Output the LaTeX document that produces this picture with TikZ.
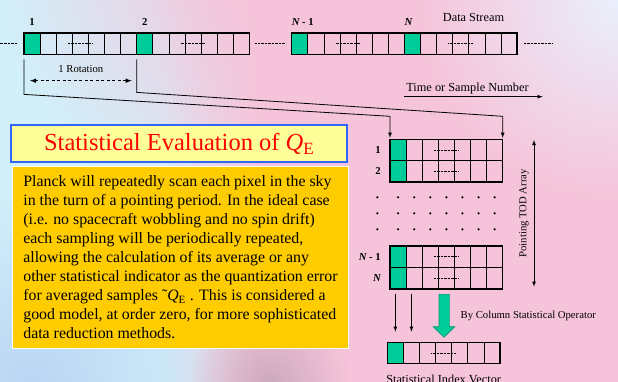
\documentclass[tikz,border=0pt]{standalone}
\usepackage{fontspec}
\setmainfont{Liberation Serif}
\usetikzlibrary{positioning,fadings}

\definecolor{bgcyan}{RGB}{210,240,250}
\definecolor{bgblue}{RGB}{186,214,244}
\definecolor{bgpink}{RGB}{246,196,218}
\definecolor{bglav}{RGB}{234,240,252}
\definecolor{bgdusk}{RGB}{206,170,190}
\definecolor{cellgreen}{RGB}{0,204,153}
\definecolor{arrowrim}{RGB}{0,150,110}
\definecolor{boxgold}{RGB}{255,204,0}
\definecolor{titlefill}{RGB}{255,255,153}
\definecolor{titleframe}{RGB}{51,102,255}

\pgfdeclarehorizontalshading{bgsweep}{100bp}{color(0bp)=(bgcyan); color(38bp)=(bgcyan); color(46bp)=(bgpink); color(100bp)=(bgpink)}
\tikzfading[name=softspot, inner color=transparent!0, outer color=transparent!100]

\begin{document}
\begin{tikzpicture}[
		x=1pt, y=-1pt,
		cell/.style={
			draw,
			line width=0.7pt,
			minimum width=16.1pt,
			minimum height=21.4pt,
			inner sep=0pt,
			outer sep=0pt
		},
		rim/.style={line width=1.5pt},
		elide/.style={line width=0.9pt, dash pattern=on 0.9pt off 0.5pt},
		wire/.style={line width=0.8pt},
		lbl/.style={font=\fontsize{10.7pt}{12pt}\selectfont},
		biglbl/.style={font=\fontsize{12.3pt}{14pt}\selectfont},
		idx/.style={font=\fontsize{10.7pt}{12pt}\selectfont\bfseries, inner sep=1pt},
		titlebox/.style={
			draw=titleframe,
			line width=2pt,
			fill=titlefill,
			text=red,
			minimum width=336.3pt,
			minimum height=37pt,
			font=\fontsize{24.5pt}{28pt}\selectfont
		},
		bodybox/.style={
			draw=white,
			line width=0.8pt,
			fill=boxgold,
			minimum width=335.6pt,
			minimum height=182.3pt,
			align=left,
			font=\fontsize{15.85pt}{19.1pt}\selectfont
		},
		>=latex
		]
		\useasboundingbox (0,0) rectangle (618,382);
		\clip (0,0) rectangle (618,382);
		
		% background wash
		\shade[shading=bgsweep] (0,0) rectangle (618,382);
		\fill[bgpink, path fading=softspot] (250,-30) circle (250);
		\fill[bglav, path fading=softspot] (618,0) circle (200);
		\fill[bgblue, path fading=softspot] (30,382) circle (190);
		\fill[bgdusk, path fading=softspot] (270,382) circle (80);
		
		% stream blocks, TOD rows and index vector
		\foreach \blk/\bx/\by in {a/24/33,b/136.7/33,c/291.7/33,d/404.4/33,r1/390/139.3,r2/390/160.7,rm/390/246,rn/390/267.4,v/387.3/342.3}
		{
			\node[cell, fill=cellgreen] (\blk-1) at ({\bx+8.05},{\by+10.7}) {};
			\foreach \k in {2,...,7}
				\node[cell] (\blk-\k) at ({\bx+(\k-0.5)*16.1},{\by+10.7}) {};
			\draw[rim] (\blk-1.north west) rectangle (\blk-7.south east);
			\draw[elide] ([xshift=-12.5pt]\blk-4.center) -- ([xshift=12.5pt]\blk-4.center);
		}
		
		\draw[elide] ([xshift=-7pt]a-1.west) -- ++(-17,0);
		\draw[elide] ([xshift=5.6pt]b-7.east) -- ([xshift=-6.7pt]c-1.west);
		\draw[elide] ([xshift=6.6pt]d-7.east) -- ++(28.4,0);
		
		\node[idx, above=6pt of a-1] (s1) {1};
		\node[idx, above=6pt of b-1] (s2) {2};
		\node[idx, above=6pt of c-1, xshift=3pt] (sm) {{\itshape N} - 1};
		\node[idx, above=6pt of d-1, xshift=-4pt] (sn) {\itshape N};
		\node[biglbl] (stream) at (473.5,17) {Data Stream};
		
		% one rotation
		\coordinate (rotl) at ([xshift=6pt,yshift=-26.3pt]a-1.south west);
		\coordinate (rotr) at ([xshift=-5pt,yshift=-26.3pt]b-1.south west);
		\draw[<->, line width=1.1pt, dash pattern=on 3pt off 2.5pt] (rotl) -- node[lbl, above=4pt] (rot) {1 Rotation} (rotr);
		
		% samples go into the TOD array
		\draw[->, wire] ([yshift=-5pt]a-1.south west) -- ++(0,35) -- ([yshift=23pt]r1-1.north west) -- ([yshift=1.5pt]r1-1.north west);
		\draw[->, wire] ([yshift=-5pt]b-1.south west) -- ++(0,33) -- ([yshift=23pt]r1-7.north east) -- ([yshift=1.5pt]r1-7.north east);
		
		\coordinate (t0) at (404,96.7);
		\coordinate (t1) at (542.7,96.7);
		\draw[->, wire] (t0) -- node[biglbl, pos=0, anchor=south west, inner sep=2pt] (time) {Time or Sample Number} (t1);
		
		\node[idx, left=8pt of r1-1] (p1) {1};
		\node[idx, left=8pt of r2-1] (p2) {2};
		\node[idx, left=8pt of rm-1] (pm) {{\itshape N} - 1};
		\node[idx, left=8pt of rn-1] (pn) {\itshape N};
		
		\foreach \row in {197.3,213.3,229.3}
		{
			\fill (377.3,\row) circle (1.2);
			\foreach \k in {1,...,7}
				\fill ({390+(\k-0.5)*16.1},\row) circle (1.2);
		}
		
		\coordinate (todtop) at (534,140);
		\coordinate (todbot) at (534,286.7);
		\draw[<->, wire] (todtop) -- node[lbl, rotate=90, anchor=south, inner sep=5pt] (tod) {Pointing TOD Array} (todbot);
		
		% column operator
		\foreach \k in {1,2}
		{
			\coordinate (drop\k) at (v-\k.north |- rn-\k.south);
			\draw[->, wire] ([yshift=-5pt]drop\k) -- ([yshift=10.6pt]v-\k.north);
		}
		\filldraw[fill=cellgreen, draw=arrowrim, line width=0.6pt] (439,294.3) -- (449.3,294.3) -- (449.3,326.7) -- (454.7,326.7) -- (444,337.3) -- (433.3,326.7) -- (439,326.7) -- cycle;
		\node[lbl] (oper) at (528.3,316) {By Column Statistical Operator};
		\node[biglbl, anchor=base] (vec) at ([yshift=-19.7pt]v-4.south) {Statistical Index Vector};
		
		% text panel
		\node[titlebox] (title) at (179.2,143.8) {Statistical Evaluation of \textit{Q}\textsubscript{E}};
		\node[bodybox] (body) at (180.5,257.2) {Planck will repeatedly scan each pixel in the sky\\
			in the turn of a pointing period. In the ideal case\\
			(i.e. no spacecraft wobbling and no spin drift)\\
			each sampling will be periodically repeated,\\
			allowing the calculation of its average or any\\
			other statistical indicator as the quantization error\\
			for averaged samples ˜\textit{Q}\textsubscript{E} . This is considered a\\
			good model, at order zero, for more sophisticated\\
			data reduction methods.};
		
\end{tikzpicture}
\end{document}
